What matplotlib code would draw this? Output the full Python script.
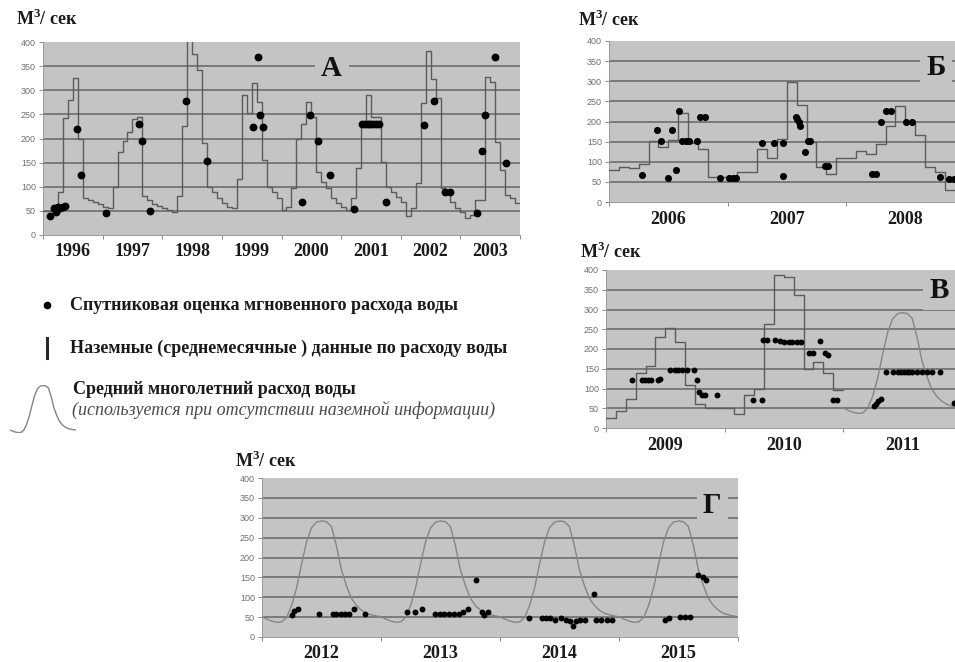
import numpy as np
import matplotlib
matplotlib.use("Agg")
import matplotlib.pyplot as plt
from matplotlib.lines import Line2D

plt.rcParams['font.family'] = ['Liberation Serif', 'DejaVu Serif']
plt.rcParams['mathtext.fontset'] = 'custom'
plt.rcParams['mathtext.rm'] = 'Liberation Serif:bold'
plt.rcParams['mathtext.bf'] = 'Liberation Serif:bold'

# ---------------------------------------------------------------- data
# Panel А: 1996-2003, monthly mean ground discharge (m3/s)
years_a = ['1996', '1997', '1998', '1999', '2000', '2001', '2002', '2003']
ground_a = [
    50, 50, 50, 90, 242, 280, 325, 200, 76, 72, 69, 65,        # 1996
    58, 55, 100, 172, 195, 214, 241, 245, 80, 72, 65, 60,      # 1997
    55, 52, 48, 80, 225, 420, 376, 342, 190, 100, 90, 76,      # 1998
    66, 59, 55, 117, 290, 252, 314, 276, 155, 100, 90, 76,     # 1999
    52, 58, 97, 200, 231, 276, 245, 131, 110, 97, 76, 66,      # 2000
    59, 52, 76, 138, 228, 291, 245, 245, 152, 100, 90, 79,     # 2001
    69, 40, 55, 107, 273, 381, 324, 284, 97, 86, 69, 55,       # 2002
    48, 36, 41, 72, 72, 328, 318, 193, 135, 83, 76, 66,        # 2003
]
sat_a_month = [1.4, 2.2, 2.7, 3.0, 3.5, 4.0, 4.5, 6.9, 7.7, 12.6,
               19.3, 19.9, 21.5, 28.8, 33.0, 42.2, 43.2, 43.7, 44.3,
               52.1, 53.7, 55.3, 57.8, 62.6, 64.3, 64.8, 65.4, 65.9,
               66.4, 67.0, 67.6, 69.0, 76.7, 78.7, 81.0, 82.0, 87.3,
               88.3, 88.9, 91.0, 93.1]
sat_a_flow = [40, 55, 47, 57, 55, 58, 60, 219, 124, 45,
              230, 195, 50, 278, 154, 224, 368, 249, 224,
              69, 249, 195, 124, 54, 230, 230, 230, 230,
              230, 230, 230, 69, 228, 278, 90, 90, 45,
              174, 249, 368, 149]

# Panel Б: 2006-2008
years_b = ['2006', '2007', '2008']
ground_b = [79, 88, 84, 95, 151, 137, 153, 222, 147, 132, 62, 62,
            62, 75, 75, 132, 109, 157, 298, 242, 149, 87, 70, 109,
            109, 126, 120, 145, 190, 238, 200, 166, 87, 75, 29, 29]
sat_b_month = [3.3, 4.86, 5.3, 5.98, 6.42, 6.76, 7.06, 7.4, 7.77, 8.1,
               8.9, 9.2, 9.7, 11.2, 12.2, 12.6, 12.9, 15.5, 16.7, 17.6,
               17.6, 18.9, 19.05, 19.2, 19.35, 19.8, 20.2, 20.4, 21.9, 22.2,
               26.6, 27.0, 27.5, 28.0, 28.6, 30.1, 30.7, 33.5, 34.4, 34.9]
sat_b_flow = [68, 178, 151, 60, 178, 79, 225, 152, 152, 152,
              152, 211, 211, 60, 60, 60, 60, 147, 147, 147,
              65, 211, 205, 198, 190, 123, 152, 152, 89, 89,
              70, 70, 200, 225, 225, 200, 200, 62, 58, 58]

# Panel В: 2009-2011 (ground data through 2010, long-term mean in 2011)
years_v = ['2009', '2010', '2011']
ground_v = [25, 42, 74, 139, 156, 230, 253, 218, 110, 60, 50, 50,
            50, 36, 83, 100, 264, 388, 382, 336, 149, 167, 140, 95]
sat_v_month = [2.6, 3.6, 3.95, 4.3, 4.6, 5.3, 5.5, 6.5, 7.0, 7.3,
               7.7, 8.2, 8.9, 9.2, 9.4, 9.7, 10.0, 11.2, 14.9, 15.8,
               15.9, 16.3, 17.1, 17.6, 18.0, 18.5, 18.8, 19.3, 19.7, 20.6,
               21.0, 21.7, 22.2, 22.5, 23.0, 23.4, 27.1, 27.3, 27.5, 27.8,
               28.4, 29.1, 29.6, 29.9, 30.2, 30.5, 30.7, 31.0, 31.5, 32.0,
               32.5, 33.0, 33.8, 35.2]
sat_v_flow = [121, 121, 121, 121, 121, 121, 123, 146, 146, 146,
              146, 146, 146, 121, 91, 84, 83, 84, 70, 70,
              222, 222, 222, 220, 218, 218, 218, 218, 218, 191,
              191, 220, 191, 184, 70, 70, 56, 62, 68, 73,
              142, 142, 142, 142, 142, 142, 142, 142, 142, 142,
              142, 142, 142, 64]

# Panel Г: 2012-2015 (no ground data, long-term mean only)
years_g = ['2012', '2013', '2014', '2015']
sat_g_month = [3.06, 3.26, 3.6, 5.7, 7.2, 7.5, 7.97, 8.4, 8.8, 9.3, 10.4,
               14.6, 15.4, 16.1, 17.4, 17.9, 18.4, 18.9, 19.4, 19.9, 20.3,
               20.8, 21.6, 22.2, 22.4, 22.8,
               26.9, 28.2, 28.6, 29.0, 29.5, 30.2, 30.7, 31.1, 31.4, 31.7,
               32.1, 32.6, 33.5, 33.7, 34.2, 34.8, 35.3,
               40.6, 41.0, 42.2, 42.7, 43.2, 44.0, 44.5, 44.8]
sat_g_flow = [56, 66, 70, 58, 58, 58, 58, 58, 58, 70, 58,
              64, 64, 70, 59, 59, 59, 59, 59, 59, 62,
              70, 144, 62, 56, 62,
              49, 49, 49, 47, 44, 49, 44, 41, 28, 39,
              44, 44, 108, 44, 44, 44, 44,
              43, 47, 51, 51, 51, 155, 152, 144]

# Long-term mean annual hydrograph, sampled every half month (Jan 1 .. Dec 15)
mean_curve = [51, 45, 40, 37, 38, 50, 80, 125, 185, 240, 275, 289,
              292, 290, 278, 230, 170, 130, 98, 80, 68, 60, 56, 53]

# ---------------------------------------------------------------- style
BG = '#c4c4c4'
GRID = '#666666'
LINE = '#5c5c5c'
MEANC = '#858585'
TICK = '#707070'
W, H = 955, 662

fig = plt.figure(figsize=(W / 100, H / 100), dpi=100)
fig.patch.set_facecolor('white')


def px_axes(left, top, right, bottom):
    return fig.add_axes([left / W, 1 - bottom / H, (right - left) / W, (bottom - top) / H])


def fig_text(x, y, s, **kw):
    fig.text(x / W, 1 - y / H, s, **kw)


def setup(ax, years, n_months, letter, letter_pos, unit_pos, height_px):
    ax.set_facecolor(BG)
    ax.set_xlim(0, n_months)
    ax.set_ylim(0, 400)
    for v in range(50, 400, 50):
        ax.axhline(v, color=GRID, lw=1.1, zorder=1)
    ax.set_yticks(range(0, 401, 50))
    ax.tick_params(axis='y', length=3, width=0.7, color='#8a8a8a', pad=2,
                   labelsize=6.5, labelcolor=TICK)
    for lab in ax.get_yticklabels():
        lab.set_family('Liberation Sans')
    ax.set_xticks(np.arange(0, len(years) + 1) * 12)
    ax.set_xticklabels([])
    ax.tick_params(axis='x', length=3, width=0.7, color='#8a8a8a')
    for side in ('top', 'right'):
        ax.spines[side].set_visible(False)
    for side in ('left', 'bottom'):
        ax.spines[side].set_color('#9a9a9a')
        ax.spines[side].set_linewidth(0.7)
    for i, y in enumerate(years):
        ax.text(i * 12 + 6, -17 / height_px, y, transform=ax.get_xaxis_transform(),
                ha='center', va='center', fontsize=13, fontweight='bold',
                color='#1a1a1a', clip_on=False)
    ax.text(letter_pos[0], letter_pos[1], letter, ha='center', va='center',
            fontsize=21, fontweight='bold', color='#111111', zorder=6,
            bbox=dict(boxstyle='square,pad=0.22', facecolor=BG, edgecolor='none'))
    fig_text(unit_pos[0], unit_pos[1], 'М$^{3}$/ сек', fontsize=13,
             fontweight='bold', ha='left', va='baseline', color='#1a1a1a')


def steps(ax, values, start=0):
    x = np.arange(len(values) + 1) + start
    y = list(values) + [values[-1]]
    ax.plot(x, y, drawstyle='steps-post', color=LINE, lw=1.0, zorder=3)


def mean_line(ax, start, n_years):
    vals = list(mean_curve) * n_years + [mean_curve[0]]
    t = start + np.arange(len(vals)) * 0.5
    ax.plot(t, vals, color=MEANC, lw=1.0, zorder=3)


def dots(ax, m, f, size):
    ax.scatter(m, f, s=size, color='black', zorder=5, linewidths=0)


# Panel А
ax_a = px_axes(43, 42, 520, 235)
setup(ax_a, years_a, 96, 'А', (58.1, 346), (16, 25), 193)
steps(ax_a, ground_a)
dots(ax_a, sat_a_month, sat_a_flow, 32)

# Panel Б (runs past the right edge of the sheet)
ax_b = px_axes(609, 41, 964.5, 202)
setup(ax_b, years_b, 36, 'Б', (33.1, 333), (578, 26), 161)
steps(ax_b, ground_b)
dots(ax_b, sat_b_month, sat_b_flow, 26)

# Panel В
ax_v = px_axes(606, 270, 961.5, 428)
setup(ax_v, years_v, 36, 'В', (33.7, 349), (580, 258), 158)
steps(ax_v, ground_v)
mean_line(ax_v, 24, 1)
dots(ax_v, sat_v_month, sat_v_flow, 18)

# Panel Г
ax_g = px_axes(262, 478, 738, 637)
setup(ax_g, years_g, 48, 'Г', (45.4, 332), (235, 467), 159)
mean_line(ax_g, 0, 4)
dots(ax_g, sat_g_month, sat_g_flow, 18)

# ---------------------------------------------------------------- legend
fig.add_artist(Line2D([47 / W], [1 - 305 / H], marker='o', markersize=4.5,
                      color='black', linestyle='none', transform=fig.transFigure))
fig.add_artist(Line2D([47 / W, 47 / W], [1 - 338 / H, 1 - 358 / H], lw=2.2,
                      color='#2a2a2a', transform=fig.transFigure))
fig_text(70, 305, 'Спутниковая оценка мгновенного расхода воды', fontsize=13,
         fontweight='bold', va='center', ha='left', color='#1a1a1a')
fig_text(70, 348, 'Наземные (среднемесячные ) данные по расходу воды', fontsize=13,
         fontweight='bold', va='center', ha='left', color='#1a1a1a')
fig_text(73, 389, 'Средний многолетний расход воды', fontsize=13,
         fontweight='bold', va='center', ha='left', color='#1a1a1a')
fig_text(72, 410, '(используется при отсутствии наземной информации)', fontsize=13,
         fontstyle='italic', va='center', ha='left', color='#4a4a4a')

ax_icon = px_axes(10, 385, 76, 433)
ax_icon.plot(np.arange(len(mean_curve) + 1) * 0.5, list(mean_curve) + [mean_curve[0]],
             color=MEANC, lw=1.0)
ax_icon.set_xlim(0, 12)
ax_icon.set_ylim(35, 295)
ax_icon.axis('off')

fig.savefig('out.png', dpi=100, facecolor='white')
